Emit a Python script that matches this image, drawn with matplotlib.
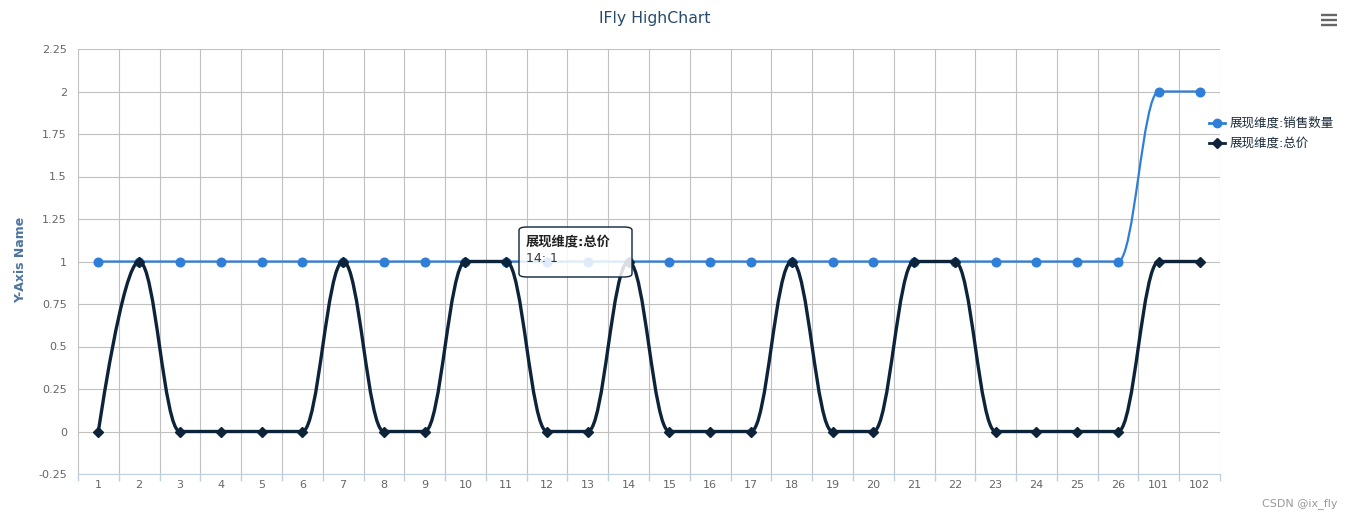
import numpy as np
import matplotlib
matplotlib.use("Agg")
import matplotlib.pyplot as plt
from matplotlib.path import Path
from matplotlib.patches import PathPatch, FancyBboxPatch
from matplotlib.lines import Line2D

plt.rcParams['font.family'] = ['DejaVu Sans', 'Noto Sans CJK SC']

categories = [str(i) for i in range(1, 27)] + ['101', '102']
sales_name = '展现维度:销售数量'
sales = [1] * 26 + [2, 2]
total_name = '展现维度:总价'
total = [0, 1, 0, 0, 0, 0, 1, 0, 0, 1, 1, 0, 0, 1, 0, 0, 0, 1, 0, 0, 1, 1, 0, 0, 0, 0, 1, 1]
yticks = [-0.25, 0, 0.25, 0.5, 0.75, 1, 1.25, 1.5, 1.75, 2, 2.25]
tooltip_idx = 13

W, H = 1354, 520


def spline_path(xs, ys, smoothing=1.5):
    # highcharts style spline control points
    n = len(xs)
    d = smoothing + 1
    lcx = list(xs); lcy = list(ys); rcx = list(xs); rcy = list(ys)
    for i in range(1, n - 1):
        x, y = xs[i], ys[i]
        lx, ly = xs[i - 1], ys[i - 1]
        nx, ny = xs[i + 1], ys[i + 1]
        lcx_ = (smoothing * x + lx) / d
        lcy_ = (smoothing * y + ly) / d
        rcx_ = (smoothing * x + nx) / d
        rcy_ = (smoothing * y + ny) / d
        if rcx_ != lcx_:
            corr = ((rcy_ - lcy_) * (rcx_ - x)) / (rcx_ - lcx_) + y - rcy_
            lcy_ += corr
            rcy_ += corr
        if lcy_ > ly and lcy_ > y:
            lcy_ = max(ly, y); rcy_ = 2 * y - lcy_
        elif lcy_ < ly and lcy_ < y:
            lcy_ = min(ly, y); rcy_ = 2 * y - lcy_
        if rcy_ > ny and rcy_ > y:
            rcy_ = max(ny, y); lcy_ = 2 * y - rcy_
        elif rcy_ < ny and rcy_ < y:
            rcy_ = min(ny, y); lcy_ = 2 * y - rcy_
        lcx[i], lcy[i], rcx[i], rcy[i] = lcx_, lcy_, rcx_, rcy_
    verts = [(xs[0], ys[0])]
    codes = [Path.MOVETO]
    for i in range(1, n):
        verts += [(rcx[i - 1], rcy[i - 1]), (lcx[i], lcy[i]), (xs[i], ys[i])]
        codes += [Path.CURVE4] * 3
    return Path(verts, codes)


fig = plt.figure(figsize=(W / 100, H / 100), dpi=100)
ax = fig.add_axes([78 / W, 46 / H, (1220 - 78) / W, (474 - 49) / H])

x = np.arange(len(categories))
grid_c = '#C0C0C0'

ax.add_patch(PathPatch(spline_path(list(x), sales), fill=False, edgecolor='#2f7ed8', lw=1.6, zorder=3))
ax.plot(x, sales, ls='none', marker='o', ms=6.2, color='#2f7ed8', zorder=4)
ax.add_patch(PathPatch(spline_path(list(x), total), fill=False, edgecolor='#0d233a', lw=2.4, zorder=5))
ax.plot(x, total, ls='none', marker='D', ms=4.6, color='#0d233a', zorder=6)

ax.set_xlim(-0.5, len(categories) - 0.5)
ax.set_ylim(-0.25, 2.25)
ax.set_yticks(yticks)
ax.set_yticklabels(['%g' % v for v in yticks])
ax.set_xticks(x)
ax.set_xticklabels(categories)
ax.set_xticks(np.arange(-0.5, len(categories), 1), minor=True)
ax.tick_params(axis='x', which='major', length=0, labelsize=8, colors='#666666', pad=4)
ax.tick_params(axis='x', which='minor', length=5, color='#C0D0E0', width=1)
ax.tick_params(axis='y', length=0, labelsize=8, colors='#666666', pad=8)
ax.grid(axis='y', color=grid_c, lw=0.8)
ax.grid(axis='x', which='minor', color=grid_c, lw=0.8)
ax.set_axisbelow(True)
for s in ['top', 'right', 'left']:
    ax.spines[s].set_visible(False)
ax.spines['bottom'].set_color('#C0D0E0')
ax.set_ylabel('Y-Axis Name', color='#4d759e', fontsize=9, fontweight='bold')
ax.yaxis.set_label_coords(27 / W, 0.5, transform=fig.transFigure)

fig.text(655 / W, 1 - 18 / H, 'IFly HighChart', ha='center', va='center', fontsize=11.3, color='#274b6d')

# legend
for i, (name, col, mk, ms) in enumerate([(sales_name, '#2f7ed8', 'o', 6), (total_name, '#0d233a', 'D', 4.6)]):
    yy = 1 - (123 + 20 * i) / H
    fig.add_artist(Line2D([1209 / W, 1225 / W], [yy, yy], color=col, lw=2, transform=fig.transFigure))
    fig.add_artist(Line2D([1217 / W], [yy], marker=mk, ms=ms, color=col, transform=fig.transFigure))
    fig.text(1230 / W, yy, name, va='center', ha='left', fontsize=9, color='#1c2b3a')

# menu icon
for k in range(3):
    yy = 1 - (15 + 5 * k) / H
    fig.add_artist(Line2D([1321 / W, 1337 / W], [yy, yy], color='#666666', lw=1.7, solid_capstyle='butt',
                          transform=fig.transFigure))

# tooltip
bx, by, bw, bh = 519 / W, 1 - 277 / H, 113 / W, 50 / H
fig.add_artist(FancyBboxPatch((bx, by), bw, bh, boxstyle='round,pad=0,rounding_size=0.006',
                              transform=fig.transFigure, facecolor='white', alpha=0.85,
                              edgecolor='none', zorder=10))
fig.add_artist(FancyBboxPatch((bx, by), bw, bh, boxstyle='round,pad=0,rounding_size=0.006',
                              transform=fig.transFigure, facecolor='none', edgecolor='#0d233a',
                              lw=1, zorder=11))
fig.text(526 / W, 1 - 242 / H, total_name, fontsize=9.5, fontweight='bold', color='#222222', va='center', zorder=12)
fig.text(526 / W, 1 - 258 / H, '%s: %g' % (categories[tooltip_idx], total[tooltip_idx]), fontsize=9,
         color='#333333', va='center', zorder=12)

fig.text(1338 / W, 1 - 504 / H, 'CSDN @ix_fly', ha='right', va='center', fontsize=8, color='#999999')

fig.savefig('out.png', dpi=100)
